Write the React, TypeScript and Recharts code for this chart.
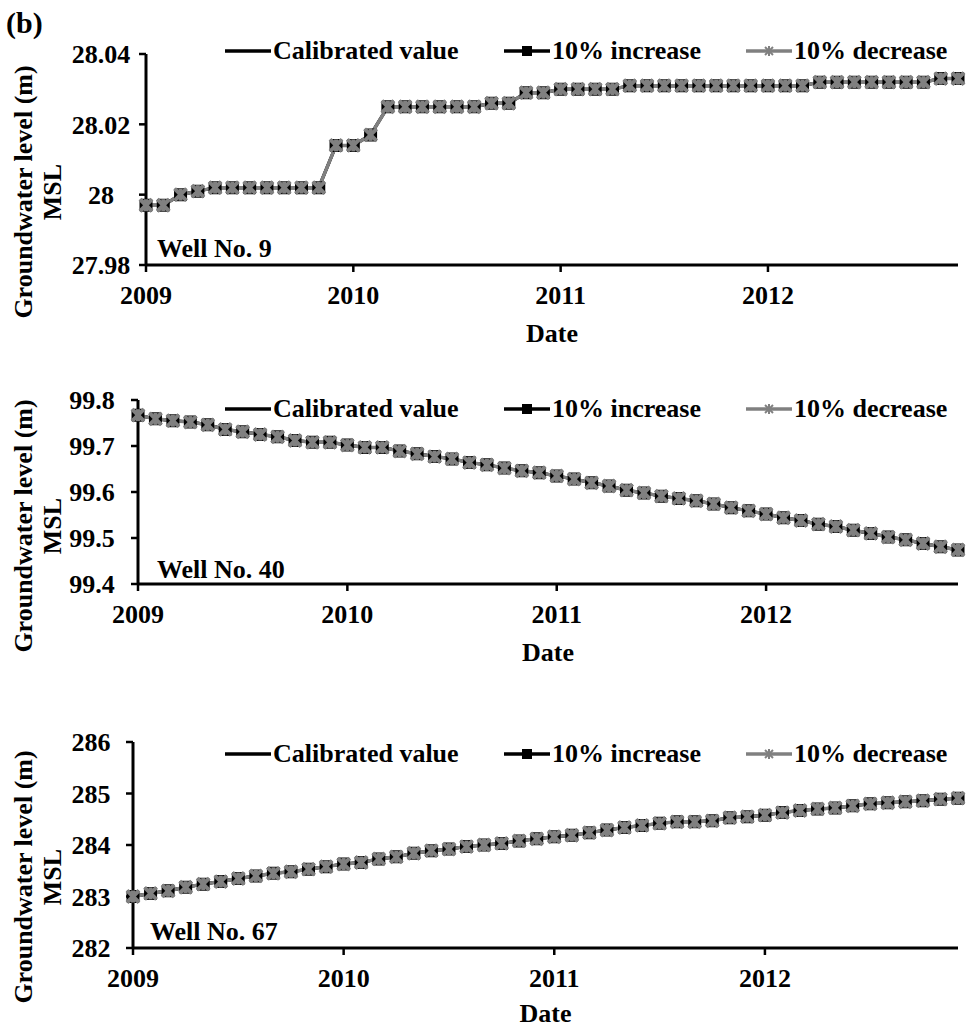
import React from 'react';
import { LineChart, Line, XAxis, YAxis } from 'recharts';

const FONT = "'Liberation Serif', 'Times New Roman', serif";
const GREY = '#808080';

// Monthly time axis, Jan 2009 – Dec 2012
const YEAR_LABELS = ['2009', '2010', '2011', '2012'];
const MONTH_CODES = ['01', '02', '03', '04', '05', '06', '07', '08', '09', '10', '11', '12'];
const MONTHS = YEAR_LABELS.flatMap((y) => MONTH_CODES.map((m) => `${y}-${m}`));

const SERIES_NAMES = ['Calibrated value', '10% increase', '10% decrease'];

// Well No. 9 simulated heads (m above MSL)
const WELL9_CALIBRATED = [
  27.997, 27.997, 28.0, 28.001, 28.002, 28.002, 28.002, 28.002, 28.002, 28.002, 28.002, 28.014,
  28.014, 28.017, 28.025, 28.025, 28.025, 28.025, 28.025, 28.025, 28.026, 28.026, 28.029, 28.029,
  28.03, 28.03, 28.03, 28.03, 28.031, 28.031, 28.031, 28.031, 28.031, 28.031, 28.031, 28.031,
  28.031, 28.031, 28.031, 28.032, 28.032, 28.032, 28.032, 28.032, 28.032, 28.032, 28.033, 28.033,
];
const WELL9_INCREASE = [
  27.997, 27.997, 28.0, 28.001, 28.002, 28.002, 28.002, 28.002, 28.002, 28.002, 28.002, 28.014,
  28.014, 28.017, 28.025, 28.025, 28.025, 28.025, 28.025, 28.025, 28.026, 28.026, 28.029, 28.029,
  28.03, 28.03, 28.03, 28.03, 28.031, 28.031, 28.031, 28.031, 28.031, 28.031, 28.031, 28.031,
  28.031, 28.031, 28.031, 28.032, 28.032, 28.032, 28.032, 28.032, 28.032, 28.032, 28.033, 28.033,
];
const WELL9_DECREASE = [
  27.997, 27.997, 28.0, 28.001, 28.002, 28.002, 28.002, 28.002, 28.002, 28.002, 28.002, 28.014,
  28.014, 28.017, 28.025, 28.025, 28.025, 28.025, 28.025, 28.025, 28.026, 28.026, 28.029, 28.029,
  28.03, 28.03, 28.03, 28.03, 28.031, 28.031, 28.031, 28.031, 28.031, 28.031, 28.031, 28.031,
  28.031, 28.031, 28.031, 28.032, 28.032, 28.032, 28.032, 28.032, 28.032, 28.032, 28.033, 28.033,
];
const WELL9_TICKS = [27.98, 28, 28.02, 28.04];

// Well No. 40 simulated heads (m above MSL)
const WELL40_CALIBRATED = [
  99.767, 99.759, 99.755, 99.752, 99.746, 99.736, 99.731, 99.725, 99.72, 99.712, 99.708, 99.708,
  99.702, 99.697, 99.697, 99.689, 99.683, 99.677, 99.672, 99.664, 99.659, 99.652, 99.646, 99.642,
  99.635, 99.628, 99.62, 99.613, 99.604, 99.598, 99.591, 99.586, 99.581, 99.574, 99.566, 99.559,
  99.552, 99.544, 99.538, 99.53, 99.525, 99.517, 99.51, 99.502, 99.496, 99.488, 99.481, 99.474,
];
const WELL40_INCREASE = [
  99.767, 99.759, 99.755, 99.752, 99.746, 99.736, 99.731, 99.725, 99.72, 99.712, 99.708, 99.708,
  99.702, 99.697, 99.697, 99.689, 99.683, 99.677, 99.672, 99.664, 99.659, 99.652, 99.646, 99.642,
  99.635, 99.628, 99.62, 99.613, 99.604, 99.598, 99.591, 99.586, 99.581, 99.574, 99.566, 99.559,
  99.552, 99.544, 99.538, 99.53, 99.525, 99.517, 99.51, 99.502, 99.496, 99.488, 99.481, 99.474,
];
const WELL40_DECREASE = [
  99.767, 99.759, 99.755, 99.752, 99.746, 99.736, 99.731, 99.725, 99.72, 99.712, 99.708, 99.708,
  99.702, 99.697, 99.697, 99.689, 99.683, 99.677, 99.672, 99.664, 99.659, 99.652, 99.646, 99.642,
  99.635, 99.628, 99.62, 99.613, 99.604, 99.598, 99.591, 99.586, 99.581, 99.574, 99.566, 99.559,
  99.552, 99.544, 99.538, 99.53, 99.525, 99.517, 99.51, 99.502, 99.496, 99.488, 99.481, 99.474,
];
const WELL40_TICKS = [99.4, 99.5, 99.6, 99.7, 99.8];

// Well No. 67 simulated heads (m above MSL)
const WELL67_CALIBRATED = [
  283.0, 283.06, 283.11, 283.18, 283.24, 283.29, 283.35, 283.4, 283.45, 283.48, 283.53, 283.58,
  283.63, 283.66, 283.73, 283.77, 283.84, 283.89, 283.92, 283.97, 284.0, 284.03, 284.08, 284.12,
  284.16, 284.19, 284.24, 284.29, 284.34, 284.38, 284.42, 284.45, 284.45, 284.47, 284.53, 284.55,
  284.58, 284.63, 284.67, 284.7, 284.72, 284.76, 284.8, 284.82, 284.84, 284.86, 284.89, 284.91,
];
const WELL67_INCREASE = [
  283.0, 283.06, 283.11, 283.18, 283.24, 283.29, 283.35, 283.4, 283.45, 283.48, 283.53, 283.58,
  283.63, 283.66, 283.73, 283.77, 283.84, 283.89, 283.92, 283.97, 284.0, 284.03, 284.08, 284.12,
  284.16, 284.19, 284.24, 284.29, 284.34, 284.38, 284.42, 284.45, 284.45, 284.47, 284.53, 284.55,
  284.58, 284.63, 284.67, 284.7, 284.72, 284.76, 284.8, 284.82, 284.84, 284.86, 284.89, 284.91,
];
const WELL67_DECREASE = [
  283.0, 283.06, 283.11, 283.18, 283.24, 283.29, 283.35, 283.4, 283.45, 283.48, 283.53, 283.58,
  283.63, 283.66, 283.73, 283.77, 283.84, 283.89, 283.92, 283.97, 284.0, 284.03, 284.08, 284.12,
  284.16, 284.19, 284.24, 284.29, 284.34, 284.38, 284.42, 284.45, 284.45, 284.47, 284.53, 284.55,
  284.58, 284.63, 284.67, 284.7, 284.72, 284.76, 284.8, 284.82, 284.84, 284.86, 284.89, 284.91,
];
const WELL67_TICKS = [282, 283, 284, 285, 286];

type Panel = {
  well: string;
  calibrated: number[];
  increase: number[];
  decrease: number[];
  ticks: number[];
  top: number; // page offset of the panel
  height: number;
  plotLeft: number;
  plotTop: number;
  plotBottom: number;
  tickCenter: number;
  titleCenterY: number;
  dateGap: number;
  wellX: number;
  wellY: number;
  legendY: number;
  showTag?: boolean;
};

const PANELS: Panel[] = [
  {
    well: 'Well No. 9', calibrated: WELL9_CALIBRATED, increase: WELL9_INCREASE, decrease: WELL9_DECREASE,
    ticks: WELL9_TICKS, top: 0, height: 356, plotLeft: 146, plotTop: 54, plotBottom: 265,
    tickCenter: 101, titleCenterY: 192, dateGap: 77, wellX: 157, wellY: 257, legendY: 51, showTag: true,
  },
  {
    well: 'Well No. 40', calibrated: WELL40_CALIBRATED, increase: WELL40_INCREASE, decrease: WELL40_DECREASE,
    ticks: WELL40_TICKS, top: 345, height: 340, plotLeft: 138, plotTop: 55, plotBottom: 239,
    tickCenter: 92, titleCenterY: 181, dateGap: 77, wellX: 157, wellY: 233, legendY: 64,
  },
  {
    well: 'Well No. 67', calibrated: WELL67_CALIBRATED, increase: WELL67_INCREASE, decrease: WELL67_DECREASE,
    ticks: WELL67_TICKS, top: 690, height: 339, plotLeft: 133, plotTop: 52, plotBottom: 258,
    tickCenter: 91, titleCenterY: 187, dateGap: 74, wellX: 150, wellY: 250, legendY: 64,
  },
];

const WIDTH = 966;
const PLOT_RIGHT = 958;
const YAXIS_W = 60;
const XAXIS_H = 40;
const LEGEND_X = [225, 504, 746];

const textStyle = { fontFamily: FONT, fontWeight: 700, fill: '#000' } as const;

// Marker of the +10% run: filled black square
const SquareDot = (p: any) => {
  if (p.cx == null || p.cy == null) return <g key={p.index} />;
  return <rect key={p.index} x={p.cx - 6.5} y={p.cy - 6.5} width={13} height={13} rx={1.5} fill="#000" />;
};

// Marker of the -10% run: grey asterisk
const StarDot = (p: any) => {
  if (p.cx == null || p.cy == null) return <g key={p.index} />;
  const { cx, cy } = p;
  const r = 6;
  return (
    <g key={p.index} stroke={GREY} strokeWidth={4}>
      <line x1={cx - r} y1={cy - r} x2={cx + r} y2={cy + r} />
      <line x1={cx - r} y1={cy + r} x2={cx + r} y2={cy - r} />
      <line x1={cx} y1={cy - r} x2={cx} y2={cy + r} />
    </g>
  );
};

const LegendMarker = ({ kind }: { kind: number }) => (
  <svg width={46} height={16} style={{ display: 'block' }}>
    <line x1={0} y1={8} x2={46} y2={8} stroke={kind === 2 ? GREY : '#000'} strokeWidth={3.5} />
    {kind === 1 && <rect x={18} y={3} width={10} height={10} fill="#000" />}
    {kind === 2 && (
      <g stroke={GREY} strokeWidth={2}>
        <line x1={19} y1={4} x2={27} y2={12} />
        <line x1={19} y1={12} x2={27} y2={4} />
        <line x1={23} y1={3} x2={23} y2={13} />
      </g>
    )}
  </svg>
);

const LegendRow = ({ y }: { y: number }) => (
  <>
    {SERIES_NAMES.map((name, i) => (
      <div
        key={name}
        style={{
          position: 'absolute', left: LEGEND_X[i], top: y - 16, height: 32,
          display: 'flex', alignItems: 'center', whiteSpace: 'nowrap',
        }}
      >
        <LegendMarker kind={i} />
        <span style={{ fontFamily: FONT, fontWeight: 700, fontSize: 26, lineHeight: 1, marginLeft: 2, color: '#000' }}>
          {name}
        </span>
      </div>
    ))}
  </>
);

const WellPanel = ({ cfg }: { cfg: Panel }) => {
  const data = MONTHS.map((m, i) => ({
    month: m,
    calibrated: cfg.calibrated[i],
    increase: cfg.increase[i],
    decrease: cfg.decrease[i],
  }));
  const lo = cfg.ticks[0];
  const hi = cfg.ticks[cfg.ticks.length - 1];
  const plotCenterX = (cfg.plotLeft + PLOT_RIGHT) / 2;

  const yTick = (p: any) => (
    <text key={p.index} x={cfg.tickCenter} y={p.y} dy="0.36em" textAnchor="middle" fontSize={26} {...textStyle}>
      {String(p.payload.value)}
    </text>
  );

  const yTitle = () => (
    <g {...textStyle} fontSize={26} textAnchor="middle">
      <text x={32} y={cfg.titleCenterY} transform={`rotate(-90 32 ${cfg.titleCenterY})`}>
        Groundwater level (m)
      </text>
      <text x={61} y={cfg.titleCenterY} transform={`rotate(-90 61 ${cfg.titleCenterY})`}>
        MSL
      </text>
    </g>
  );

  const xTitle = () => (
    <g>
      <text x={plotCenterX} y={cfg.plotBottom + cfg.dateGap} textAnchor="middle" fontSize={26} {...textStyle}>
        Date
      </text>
      <text x={cfg.wellX} y={cfg.wellY} fontSize={26} {...textStyle}>
        {cfg.well}
      </text>
      {cfg.showTag && (
        <text x={6} y={33} fontSize={30} {...textStyle}>
          (b)
        </text>
      )}
    </g>
  );

  return (
    <div style={{ position: 'absolute', left: 0, top: cfg.top, width: WIDTH, height: cfg.height }}>
      <LineChart
        width={WIDTH}
        height={cfg.height}
        data={data}
        margin={{
          top: cfg.plotTop,
          right: WIDTH - PLOT_RIGHT,
          bottom: cfg.height - cfg.plotBottom - XAXIS_H,
          left: cfg.plotLeft - YAXIS_W,
        }}
      >
        <XAxis
          dataKey="month"
          interval={11}
          tickFormatter={(v: string) => v.slice(0, 4)}
          height={XAXIS_H}
          axisLine={{ stroke: '#000', strokeWidth: 3 }}
          tickLine={{ stroke: '#000', strokeWidth: 2.5 }}
          tickSize={7}
          tickMargin={14}
          tick={{ ...textStyle, fontSize: 26 }}
          label={xTitle}
        />
        <YAxis
          type="number"
          domain={[lo, hi]}
          ticks={cfg.ticks}
          interval={0}
          width={YAXIS_W}
          axisLine={{ stroke: '#000', strokeWidth: 3 }}
          tickLine={{ stroke: '#000', strokeWidth: 2.5 }}
          tickSize={7}
          tick={yTick}
          label={yTitle}
        />
        <Line dataKey="calibrated" name={SERIES_NAMES[0]} stroke="#000" strokeWidth={3} dot={false} isAnimationActive={false} />
        <Line dataKey="increase" name={SERIES_NAMES[1]} stroke="#000" strokeWidth={3} dot={SquareDot} isAnimationActive={false} />
        <Line dataKey="decrease" name={SERIES_NAMES[2]} stroke={GREY} strokeWidth={3.5} dot={StarDot} isAnimationActive={false} />
      </LineChart>
      <LegendRow y={cfg.legendY} />
    </div>
  );
};

export default function App() {
  return (
    <div style={{ position: 'absolute', left: 0, top: 0, width: WIDTH, height: 1029, background: '#fff', overflow: 'hidden' }}>
      {PANELS.map((p) => (
        <WellPanel key={p.well} cfg={p} />
      ))}
    </div>
  );
}
